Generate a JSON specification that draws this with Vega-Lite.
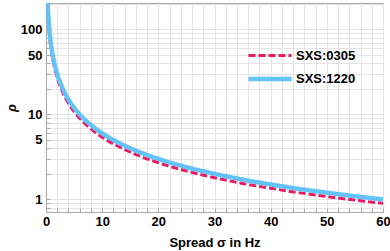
{
  "$schema": "https://vega.github.io/schema/vega-lite/v6.json",
  "width": 337,
  "height": 209,
  "autosize": "none",
  "padding": {"left": 46, "top": 3, "right": 7, "bottom": 39},
  "config": {
    "view": {"stroke": "#a8a8a8", "strokeWidth": 1},
    "font": "Liberation Sans",
    "axis": {
      "gridColor": "#e4e4e4",
      "gridWidth": 1,
      "domainColor": "#a8a8a8",
      "tickColor": "#a8a8a8",
      "labelFont": "Liberation Sans",
      "labelFontWeight": "bold",
      "labelFontSize": 13,
      "labelColor": "#000000",
      "titleFont": "Liberation Sans",
      "titleFontWeight": "bold",
      "titleFontSize": 13,
      "titleColor": "#000000"
    }
  },
  "data": {
    "values": [
      {"sigma": 0.2, "rho": 290, "series": "SXS:0305"},
      {"sigma": 0.3, "rho": 182, "series": "SXS:0305"},
      {"sigma": 0.5, "rho": 108, "series": "SXS:0305"},
      {"sigma": 0.75, "rho": 72, "series": "SXS:0305"},
      {"sigma": 1, "rho": 54, "series": "SXS:0305"},
      {"sigma": 1.5, "rho": 36, "series": "SXS:0305"},
      {"sigma": 2, "rho": 27, "series": "SXS:0305"},
      {"sigma": 3, "rho": 18, "series": "SXS:0305"},
      {"sigma": 4, "rho": 13.5, "series": "SXS:0305"},
      {"sigma": 5, "rho": 10.8, "series": "SXS:0305"},
      {"sigma": 6, "rho": 9, "series": "SXS:0305"},
      {"sigma": 8, "rho": 6.75, "series": "SXS:0305"},
      {"sigma": 10, "rho": 5.4, "series": "SXS:0305"},
      {"sigma": 12, "rho": 4.5, "series": "SXS:0305"},
      {"sigma": 15, "rho": 3.6, "series": "SXS:0305"},
      {"sigma": 20, "rho": 2.7, "series": "SXS:0305"},
      {"sigma": 25, "rho": 2.16, "series": "SXS:0305"},
      {"sigma": 30, "rho": 1.8, "series": "SXS:0305"},
      {"sigma": 35, "rho": 1.54, "series": "SXS:0305"},
      {"sigma": 40, "rho": 1.35, "series": "SXS:0305"},
      {"sigma": 45, "rho": 1.2, "series": "SXS:0305"},
      {"sigma": 50, "rho": 1.08, "series": "SXS:0305"},
      {"sigma": 55, "rho": 0.98, "series": "SXS:0305"},
      {"sigma": 60, "rho": 0.9, "series": "SXS:0305"},
      {"sigma": 0.2, "rho": 320, "series": "SXS:1220"},
      {"sigma": 0.3, "rho": 200, "series": "SXS:1220"},
      {"sigma": 0.5, "rho": 120, "series": "SXS:1220"},
      {"sigma": 0.75, "rho": 80, "series": "SXS:1220"},
      {"sigma": 1, "rho": 60, "series": "SXS:1220"},
      {"sigma": 1.5, "rho": 40, "series": "SXS:1220"},
      {"sigma": 2, "rho": 30, "series": "SXS:1220"},
      {"sigma": 3, "rho": 20, "series": "SXS:1220"},
      {"sigma": 4, "rho": 15, "series": "SXS:1220"},
      {"sigma": 5, "rho": 12, "series": "SXS:1220"},
      {"sigma": 6, "rho": 10, "series": "SXS:1220"},
      {"sigma": 8, "rho": 7.5, "series": "SXS:1220"},
      {"sigma": 10, "rho": 6, "series": "SXS:1220"},
      {"sigma": 12, "rho": 5, "series": "SXS:1220"},
      {"sigma": 15, "rho": 4, "series": "SXS:1220"},
      {"sigma": 20, "rho": 3, "series": "SXS:1220"},
      {"sigma": 25, "rho": 2.4, "series": "SXS:1220"},
      {"sigma": 30, "rho": 2, "series": "SXS:1220"},
      {"sigma": 35, "rho": 1.71, "series": "SXS:1220"},
      {"sigma": 40, "rho": 1.5, "series": "SXS:1220"},
      {"sigma": 45, "rho": 1.33, "series": "SXS:1220"},
      {"sigma": 50, "rho": 1.2, "series": "SXS:1220"},
      {"sigma": 55, "rho": 1.09, "series": "SXS:1220"},
      {"sigma": 60, "rho": 1.0, "series": "SXS:1220"}
    ]
  },
  "mark": {"type": "line", "clip": true, "interpolate": "monotone"},
  "encoding": {
    "x": {
      "field": "sigma",
      "type": "quantitative",
      "scale": {"domain": [0, 60], "nice": false, "zero": false},
      "axis": {
        "title": "Spread σ in Hz",
        "values": [0,2,4,6,8,10,12,14,16,18,20,22,24,26,28,30,32,34,36,38,40,42,44,46,48,50,52,54,56,58,60],
        "labelExpr": "datum.value % 10 === 0 ? datum.label : ''",
        "tickSize": -4,
        "labelPadding": 7,
        "titlePadding": 8,
        "labelOverlap": false,
        "labelFlush": false
      }
    },
    "y": {
      "field": "rho",
      "type": "quantitative",
      "scale": {"type": "log", "domain": [0.71, 205], "nice": false},
      "axis": {
        "title": "ρ",
        "titleFontStyle": "italic",
        "values": [0.8,0.9,1,2,3,4,5,6,7,8,9,10,20,30,40,50,60,70,80,90,100,200],
        "labelExpr": "indexof([1,5,10,50,100], datum.value) >= 0 ? datum.label : ''",
        "tickSize": -4,
        "labelPadding": 8,
        "titlePadding": 2,
        "labelOverlap": false
      }
    },
    "color": {
      "field": "series",
      "type": "nominal",
      "scale": {"domain": ["SXS:0305", "SXS:1220"], "range": ["#ea1b62", "#63c3f7"]},
      "legend": {
        "title": null,
        "orient": "none",
        "legendX": 213,
        "legendY": 42,
        "symbolType": "M-2.5,0H2.5",
        "symbolSize": 296,
        "labelFont": "Liberation Sans",
        "labelFontWeight": "bold",
        "labelFontSize": 13,
        "labelColor": "#000000",
        "rowPadding": 5,
        "labelOffset": 15
      }
    },
    "strokeDash": {
      "field": "series",
      "type": "nominal",
      "scale": {"domain": ["SXS:0305", "SXS:1220"], "range": [[7, 3], [1, 0]]}
    },
    "strokeWidth": {
      "field": "series",
      "type": "nominal",
      "scale": {"domain": ["SXS:0305", "SXS:1220"], "range": [3, 4.5]}
    }
  }
}
